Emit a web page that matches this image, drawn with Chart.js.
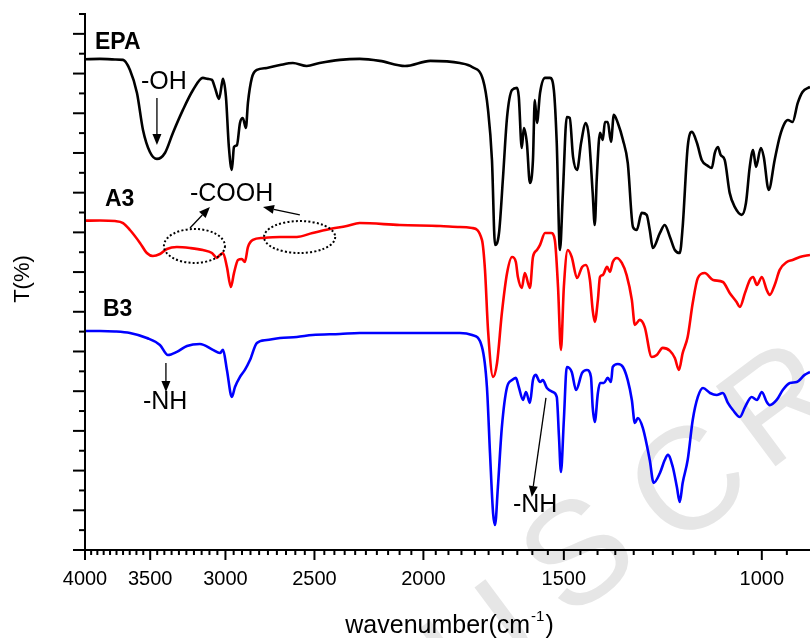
<!DOCTYPE html>
<html>
<head>
<meta charset="utf-8">
<script src="https://cdn.jsdelivr.net/npm/chart.js@4.4.1/dist/chart.umd.min.js"></script>
<style>
html,body{margin:0;padding:0;background:#fff;}
#wrap{width:810px;height:638px;}
</style>
</head>
<body>
<div id="wrap"><canvas id="c" width="810" height="638"></canvas></div>
<script>
// ---- data (wavenumber in cm-1, transmittance in offset units) ----
const epaWn = [4000,3879,3762,3700,3648,3596,3552,3502,3452,3396,3341,3273,3206,3142,3110,3084,3065,3040,3021,3015,2997,2979,2961,2948,2930,2912,2895,2877,2865,2842,2813,2756,2683,2613,2540,2474,2373,2279,2187,2077,1972,1856,1810,1770,1752,1738,1727,1713,1699,1685,1668,1651,1645,1635,1628,1618,1608,1598,1592,1585,1575,1559,1543,1531,1522,1512,1503,1491,1482,1472,1460,1448,1434,1425,1414,1408,1402,1393,1385,1379,1371,1362,1354,1343,1329,1316,1302,1292,1279,1266,1258,1250,1232,1220,1207,1195,1183,1176,1164,1154,1142,1131,1117,1108,1101,1094,1088,1079,1068,1057,1042,1033,1025,1018,1012,1002,996,986,974,964,954,948,939,929,920,906];
const epaT = [24.72,24.74,24.71,24.69,24.18,23.02,21.16,20.05,19.70,20.00,21.01,22.17,23.17,23.78,23.73,23.68,23.28,22.72,23.53,23.73,22.82,20.30,19.14,20.30,20.40,21.51,21.76,21.26,22.52,23.78,24.18,24.28,24.43,24.53,24.38,24.53,24.69,24.74,24.64,24.38,24.64,24.53,24.33,23.68,22.17,19.65,15.37,15.97,18.79,21.81,23.17,23.28,22.82,20.25,21.26,20.50,18.49,19.65,22.67,21.51,23.02,23.78,23.78,23.17,20.50,15.11,17.99,21.81,21.76,19.80,19.14,20.50,21.51,20.81,17.99,16.37,18.79,21.01,20.66,21.56,21.56,20.56,21.92,21.51,20.66,19.50,16.27,16.12,16.98,16.88,16.12,15.21,15.97,16.37,15.77,15.11,14.96,16.27,20.30,21.06,20.50,19.65,19.35,19.24,20.00,20.30,19.90,19.65,17.99,17.28,16.88,17.48,19.30,20.15,19.30,20.25,19.80,18.14,19.65,20.81,21.51,21.66,21.56,22.52,23.07,23.33];

const a3Wn = [4000,3879,3762,3700,3648,3574,3524,3481,3431,3382,3314,3226,3142,3084,3053,3034,3015,2991,2967,2948,2924,2901,2883,2865,2836,2778,2683,2592,2510,2422,2340,2279,2099,1932,1856,1810,1774,1763,1752,1734,1720,1703,1685,1668,1655,1648,1635,1625,1608,1598,1585,1575,1559,1540,1528,1518,1509,1500,1488,1476,1460,1445,1434,1422,1414,1408,1399,1393,1385,1373,1365,1357,1346,1332,1319,1305,1297,1284,1271,1253,1240,1225,1207,1195,1185,1176,1164,1152,1140,1124,1105,1083,1068,1053,1046,1035,1025,1018,1010,1000,990,984,974,964,950,939,925,906];
const a3T = [16.59,16.60,16.57,16.47,16.12,15.47,14.96,14.81,14.91,15.16,15.26,15.21,15.11,14.96,14.71,14.86,14.96,14.26,13.25,13.95,14.61,14.66,14.51,15.26,15.62,15.72,15.77,15.77,15.97,16.17,16.32,16.47,16.37,16.32,16.27,16.22,15.62,14.11,11.08,8.72,9.42,11.94,13.95,14.76,14.51,13.75,13.20,13.95,13.20,14.76,15.11,15.37,15.97,15.97,15.62,13.25,10.08,13.25,15.11,14.76,13.70,14.26,14.36,13.60,12.09,11.49,12.60,13.75,13.85,14.26,14.01,14.51,14.71,14.46,13.85,12.60,11.34,11.59,11.23,9.72,9.82,10.18,10.03,9.67,9.07,9.92,10.73,12.44,13.70,13.95,13.60,13.50,12.95,12.49,12.24,12.95,13.60,13.75,13.35,13.75,13.10,12.85,13.35,14.11,14.51,14.61,14.76,14.86];

const b3Wn = [4000,3879,3762,3648,3524,3431,3375,3314,3246,3161,3078,3034,3015,2991,2961,2942,2912,2883,2853,2813,2756,2683,2592,2510,2373,2279,2099,1932,1856,1810,1774,1756,1745,1734,1727,1717,1703,1685,1668,1655,1645,1631,1621,1608,1598,1589,1575,1566,1553,1534,1522,1515,1509,1500,1491,1476,1463,1445,1431,1419,1414,1408,1399,1393,1382,1371,1362,1357,1343,1329,1316,1305,1297,1289,1276,1258,1248,1232,1220,1212,1200,1190,1183,1176,1164,1152,1140,1128,1112,1097,1083,1072,1061,1046,1035,1021,1010,1000,990,984,970,958,944,931,916,906];
const b3T = [11.03,11.03,11.01,10.93,10.68,10.33,9.82,9.98,10.28,10.38,10.08,9.92,10.08,9.07,7.71,8.21,8.72,9.07,9.57,10.43,10.58,10.68,10.73,10.83,10.88,10.93,10.93,10.93,10.93,10.83,10.23,8.21,4.89,1.86,1.26,3.17,6.20,8.21,8.56,8.67,8.21,7.56,7.96,7.41,8.56,8.82,8.46,8.56,8.16,7.96,7.71,5.69,3.93,6.55,9.22,8.97,8.06,8.92,9.07,8.72,7.20,6.45,7.91,8.41,8.41,8.67,8.46,9.22,9.37,9.22,8.56,7.56,6.40,6.65,6.15,4.53,3.38,3.88,4.53,4.79,4.18,3.17,2.42,3.38,4.53,6.55,7.71,8.16,7.91,7.81,7.91,7.41,7.05,6.70,7.20,7.71,7.56,7.96,7.46,7.30,7.56,8.06,8.41,8.46,8.82,8.97];

const xTickLabels = [4000,3500,3000,2500,2000,1500,1000];

// annotations (data coordinates)
const noteText = ['EPA','A3','B3','-OH','-COOH','-NH','-NH'];
const noteWn   = [3919,3840,3856,3567,3226,3552,1665];
const noteT    = [25.54,17.63,12.09,23.58,17.93,7.46,2.27];
const noteBold = [true,true,true,false,false,false,false];
const arrowFromWn = [3452,3226,2576,3389,1556];
const arrowFromT  = [22.77,16.22,16.88,9.42,7.66];
const arrowToWn   = [3452,3097,2778,3389,1602];
const arrowToT    = [20.40,17.28,17.28,7.96,2.67];
const ringLeftWn  = [3403,2772];
const ringRightWn = [3003,2396];
const ringTopT    = [16.17,16.57];
const ringBotT    = [14.46,14.96];

const FONT = "'Liberation Sans', Arial, Helvetica, sans-serif";

function pts(wn, t){
  const n = Math.min(wn.length, t.length);
  const out = [];
  for (let i = 0; i < n; i++) out.push({x: wn[i], y: t[i]});
  return out;
}

function drawArrow(ctx, x1, y1, x2, y2){
  const ang = Math.atan2(y2 - y1, x2 - x1);
  const L = 11, W = 4.5;
  const bx = x2 - L * Math.cos(ang), by = y2 - L * Math.sin(ang);
  ctx.beginPath(); ctx.moveTo(x1, y1); ctx.lineTo(bx, by); ctx.stroke();
  ctx.beginPath();
  ctx.moveTo(x2, y2);
  ctx.lineTo(bx + W * Math.sin(ang), by - W * Math.cos(ang));
  ctx.lineTo(bx - W * Math.sin(ang), by + W * Math.cos(ang));
  ctx.closePath(); ctx.fill();
}

const deco = {
  id: 'deco',
  beforeDatasetsDraw(chart){
    const ctx = chart.ctx;
    ctx.save();
    ctx.fillStyle = '#e6e6e6';
    ctx.font = `145px ${FONT}`;
    ctx.textAlign = 'center';
    ctx.textBaseline = 'middle';
    const wm = [['U',488,652],['S',582,560],['C',692,488],['R',784,410]];
    wm.forEach(([ch, px, py]) => {
      ctx.save(); ctx.translate(px, py); ctx.rotate(-0.64); ctx.fillText(ch, 0, 0); ctx.restore();
    });
    ctx.restore();
  },
  afterDraw(chart){
    const {ctx, chartArea: a, scales: {x, y}} = chart;
    ctx.save();
    ctx.strokeStyle = '#000'; ctx.fillStyle = '#000';
    ctx.lineWidth = 2; ctx.lineCap = 'butt';
    // axes
    ctx.beginPath();
    ctx.moveTo(a.left, a.top - 1); ctx.lineTo(a.left, a.bottom + 1);
    ctx.moveTo(a.left - 1, a.bottom); ctx.lineTo(a.right, a.bottom);
    ctx.stroke();
    // y ticks
    for (let v = 0; v <= 27; v++) {
      const py = y.getPixelForValue(v);
      const len = v % 2 === 0 ? 12 : 6;
      ctx.beginPath(); ctx.moveTo(a.left - len, py); ctx.lineTo(a.left, py); ctx.stroke();
    }
    // x ticks
    for (let v = 4000; v >= x.min; v -= 50) {
      const px = x.getPixelForValue(v);
      const len = v % 500 === 0 ? 10 : 5;
      ctx.beginPath(); ctx.moveTo(px, a.bottom); ctx.lineTo(px, a.bottom + len); ctx.stroke();
    }
    // x title with superscript
    const cx = (a.left + a.right) / 2 + 2;
    const base = 633;
    ctx.textBaseline = 'alphabetic'; ctx.textAlign = 'left';
    ctx.font = `25px ${FONT}`;
    const s1 = 'wavenumber(cm', s3 = ')';
    const w1 = ctx.measureText(s1).width, w3 = ctx.measureText(s3).width;
    ctx.font = `15px ${FONT}`;
    const s2 = '-1';
    const w2 = ctx.measureText(s2).width;
    let sx = cx - (w1 + w2 + w3 + 2) / 2;
    ctx.font = `25px ${FONT}`;
    ctx.fillText(s1, sx, base);
    ctx.font = `15px ${FONT}`;
    ctx.fillText(s2, sx + w1 + 1, base - 12);
    ctx.font = `25px ${FONT}`;
    ctx.fillText(s3, sx + w1 + w2 + 2, base);
    // y title
    ctx.save();
    ctx.translate(23, 279); ctx.rotate(-Math.PI / 2);
    ctx.textAlign = 'center'; ctx.textBaseline = 'middle';
    ctx.font = `22px ${FONT}`;
    ctx.fillText('T(%)', 0, 0);
    ctx.restore();
    // notes
    ctx.textAlign = 'left'; ctx.textBaseline = 'middle';
    for (let i = 0; i < noteText.length; i++) {
      ctx.font = noteBold[i] ? `bold 23px ${FONT}` : `25px ${FONT}`;
      ctx.fillText(noteText[i], x.getPixelForValue(noteWn[i]), y.getPixelForValue(noteT[i]));
    }
    // arrows
    ctx.lineWidth = 1.3;
    for (let i = 0; i < arrowFromWn.length; i++) {
      drawArrow(ctx,
        x.getPixelForValue(arrowFromWn[i]), y.getPixelForValue(arrowFromT[i]),
        x.getPixelForValue(arrowToWn[i]), y.getPixelForValue(arrowToT[i]));
    }
    // dotted rings
    ctx.lineWidth = 2;
    ctx.setLineDash([2, 2.2]);
    for (let i = 0; i < ringLeftWn.length; i++) {
      const l = x.getPixelForValue(ringLeftWn[i]), r = x.getPixelForValue(ringRightWn[i]);
      const t = y.getPixelForValue(ringTopT[i]), b = y.getPixelForValue(ringBotT[i]);
      ctx.beginPath();
      ctx.ellipse((l + r) / 2, (t + b) / 2, Math.abs(r - l) / 2, Math.abs(b - t) / 2, 0, 0, Math.PI * 2);
      ctx.stroke();
    }
    ctx.restore();
  }
};

const ds = (label, wn, t, color) => ({
  label, data: pts(wn, t), borderColor: color, backgroundColor: color,
  borderWidth: 2.6, pointRadius: 0, fill: false, cubicInterpolationMode: 'monotone'
});

new Chart(document.getElementById('c').getContext('2d'), {
  type: 'line',
  data: { datasets: [
    ds('EPA', epaWn, epaT, '#000000'),
    ds('A3', a3Wn, a3T, '#ff0000'),
    ds('B3', b3Wn, b3T, '#0000ff')
  ]},
  options: {
    responsive: false, animation: false, devicePixelRatio: 1,
    layout: { padding: { top: 14, right: 0, left: 0, bottom: 0 } },
    plugins: { legend: { display: false }, tooltip: { enabled: false } },
    scales: {
      x: {
        type: 'logarithmic', reverse: true, min: 906, max: 4000,
        grid: { display: false, drawTicks: false }, border: { display: false },
        afterBuildTicks: (s) => { s.ticks = xTickLabels.map(v => ({ value: v })); },
        afterFit: (s) => { s.height = 88; },
        ticks: { autoSkip: false, maxRotation: 0, minRotation: 0, padding: 17, color: '#000',
                 font: { family: FONT, size: 20 }, callback: (v) => String(v) }
      },
      y: {
        min: 0, max: 27,
        grid: { display: false, drawTicks: false }, border: { display: false },
        ticks: { display: false },
        afterFit: (s) => { s.width = 85; }
      }
    }
  },
  plugins: [deco]
});
</script>
</body>
</html>
